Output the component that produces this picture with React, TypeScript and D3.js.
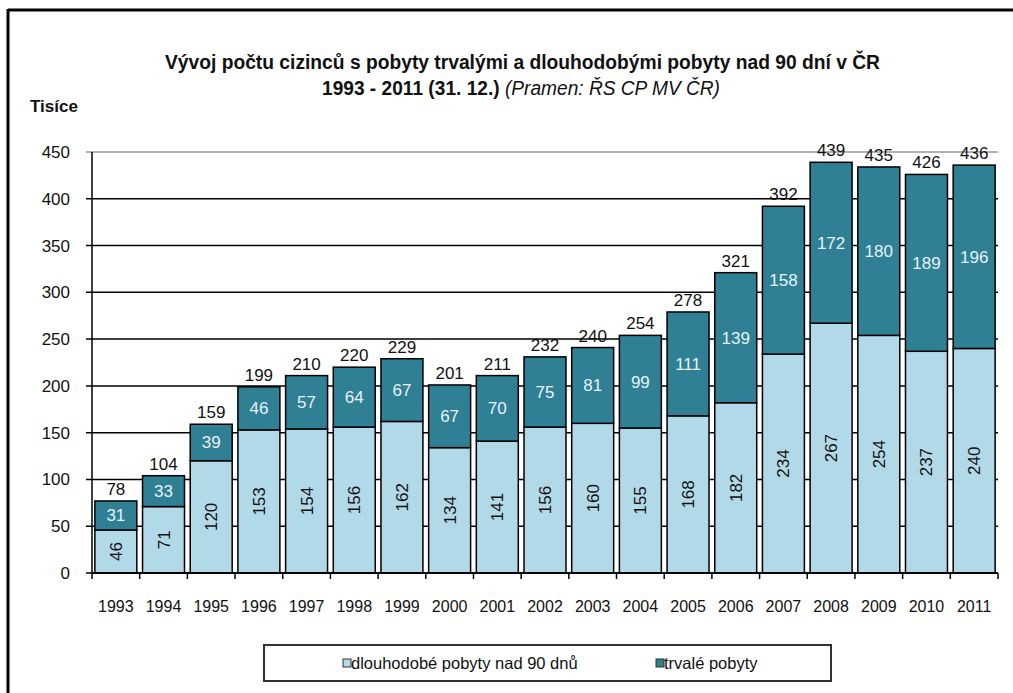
import React from "react";
import * as d3 from "d3";

const years = ["1993", "1994", "1995", "1996", "1997", "1998", "1999", "2000", "2001", "2002", "2003", "2004", "2005", "2006", "2007", "2008", "2009", "2010", "2011"];
// dlouhodobé pobyty nad 90 dnů
const longTerm = [46, 71, 120, 153, 154, 156, 162, 134, 141, 156, 160, 155, 168, 182, 234, 267, 254, 237, 240];
// trvalé pobyty
const permanent = [31, 33, 39, 46, 57, 64, 67, 67, 70, 75, 81, 99, 111, 139, 158, 172, 180, 189, 196];
const totals = [78, 104, 159, 199, 210, 220, 229, 201, 211, 232, 240, 254, 278, 321, 392, 439, 435, 426, 436];
const yTicks = [0, 50, 100, 150, 200, 250, 300, 350, 400, 450];

const FONT = "'Liberation Sans Narrow', 'Arial Narrow', 'Liberation Sans', Arial, sans-serif";
const LIGHT = "#b1d9e8";
const DARK = "#2f7f95";

const App = () => {
  const width = 1013;
  const height = 693;
  const left = 92;
  const right = 998;
  const top = 152;
  const bottom = 573;

  const x = d3.scaleBand<string>().domain(years).range([left, right]).paddingInner(0.12).paddingOuter(0.06);
  const y = d3.scaleLinear().domain([0, 450]).range([bottom, top]);
  const gap = x.step() * x.paddingInner();

  // tick marks between categories
  const xTickPos = years.map((d) => (x(d) as number) - gap / 2);
  xTickPos.push((x(years[years.length - 1]) as number) + x.bandwidth() + gap / 2);

  return (
    <svg width={width} height={height} style={{ position: "absolute", left: 0, top: 0, fontFamily: FONT }}>
      <rect x={0} y={0} width={width} height={height} fill="#fff" />
      {/* outer frame (left + top) */}
      <line x1={8} x2={8} y1={9} y2={height} stroke="#000" strokeWidth={3} />
      <line x1={8} x2={width} y1={10} y2={10} stroke="#000" strokeWidth={3} />

      {/* title */}
      <text x={165} y={69} fontSize={20} fontWeight="bold" fill="#111" textLength={715} lengthAdjust="spacingAndGlyphs">
        Vývoj počtu cizinců s pobyty  trvalými a dlouhodobými  pobyty  nad 90 dní  v ČR
      </text>
      <text x={322} y={95} fontSize={20} fill="#111" textLength={398} lengthAdjust="spacingAndGlyphs">
        <tspan fontWeight="bold">1993 - 2011 (31. 12.) </tspan>
        <tspan fontStyle="italic">(Pramen: ŘS CP MV ČR)</tspan>
      </text>
      <text x={30} y={112} fontSize={17} fontWeight="bold" fill="#111">Tisíce</text>

      {/* gridlines */}
      {yTicks.filter((t) => t > 0).map((t) => (
        <line key={t} x1={left - 6} x2={right} y1={y(t)} y2={y(t)} stroke={t === 450 ? "#999" : "#000"} strokeWidth={1.5} />
      ))}

      {/* y axis labels */}
      {yTicks.map((t) => (
        <text key={t} x={70} y={y(t) + 6} textAnchor="end" fontSize={17} fill="#111">{t}</text>
      ))}

      {/* bars */}
      {years.map((d, i) => {
        const bx = x(d) as number;
        const bw = x.bandwidth();
        const y0 = y(0);
        const y1 = y(longTerm[i]);
        const y2 = y(longTerm[i] + permanent[i]);
        const cx = bx + bw / 2;
        return (
          <g key={d}>
            <rect x={bx} y={y1} width={bw} height={y0 - y1} fill={LIGHT} stroke="#000" strokeWidth={1.5} />
            <rect x={bx} y={y2} width={bw} height={y1 - y2} fill={DARK} stroke="#000" strokeWidth={1.5} />
            <text
              transform={`translate(${cx + 6},${(y0 + y1) / 2}) rotate(-90)`}
              textAnchor="middle"
              fontSize={17}
              fill="#111"
            >
              {longTerm[i]}
            </text>
            <text x={cx} y={(y1 + y2) / 2 + 6} textAnchor="middle" fontSize={17} fill="#e6f3f7">
              {permanent[i]}
            </text>
            <text x={cx} y={y2 - 6} textAnchor="middle" fontSize={17} fill="#111">
              {totals[i]}
            </text>
          </g>
        );
      })}

      {/* axes */}
      <line x1={left} x2={left} y1={top} y2={bottom} stroke="#000" strokeWidth={1.5} />
      <line x1={left - 6} x2={left} y1={bottom} y2={bottom} stroke="#000" strokeWidth={1.5} />
      <line x1={left} x2={right} y1={bottom} y2={bottom} stroke="#000" strokeWidth={2} />
      {xTickPos.map((p, i) => (
        <line key={i} x1={p} x2={p} y1={bottom} y2={bottom + 6} stroke="#000" strokeWidth={1.5} />
      ))}
      {years.map((d) => (
        <text key={d} x={(x(d) as number) + x.bandwidth() / 2} y={612} textAnchor="middle" fontSize={16} fill="#111">
          {d}
        </text>
      ))}

      {/* legend */}
      <rect x={264} y={645} width={567} height={36} fill="#fff" stroke="#333" strokeWidth={2} />
      <rect x={343} y={659} width={8} height={8} fill={LIGHT} stroke="#333" strokeWidth={1} />
      <text x={351} y={669} fontSize={16.5} fill="#111">dlouhodobé pobyty nad 90 dnů</text>
      <rect x={656} y={659} width={8} height={8} fill={DARK} stroke="#333" strokeWidth={1} />
      <text x={664} y={669} fontSize={16.5} fill="#111">trvalé pobyty</text>
    </svg>
  );
};

export default App;
